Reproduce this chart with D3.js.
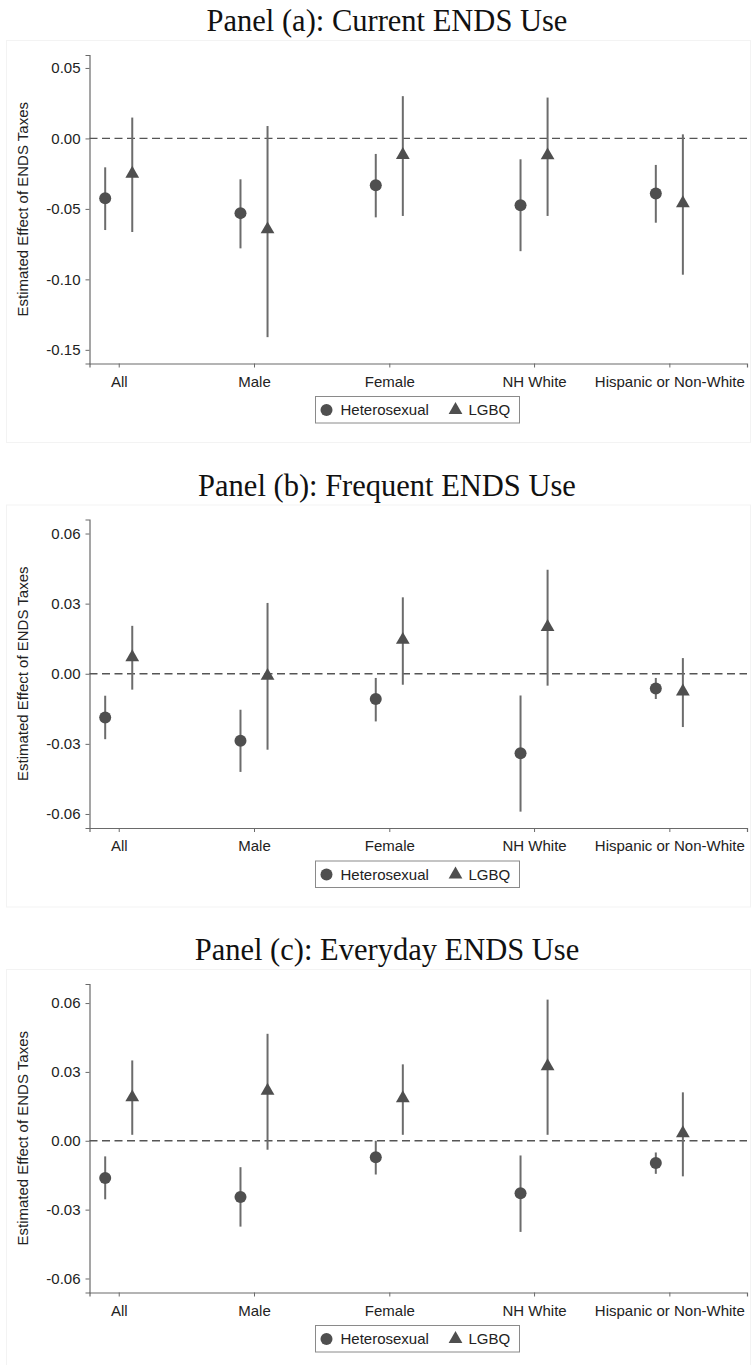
<!DOCTYPE html>
<html>
<head>
<meta charset="utf-8">
<script src="https://cdn.jsdelivr.net/npm/d3@7"></script>
<style>
  body { margin: 0; background: #fff; }
  svg { display: block; }
  .tick text { font-family: "Liberation Sans", Arial, sans-serif; font-size: 15px; fill: #222; }
</style>
</head>
<body>
<svg width="751" height="1365"></svg>
<script>
// categories and where they sit on the x axis (stata spacing is not quite even)
var groups = ["All", "Male", "Female", "NH White", "Hispanic or Non-White"];
var groupPos = [1, 2, 3, 4.07, 5.07];

var panelTitles = [
  "Panel (a): Current ENDS Use",
  "Panel (b): Frequent ENDS Use",
  "Panel (c): Everyday ENDS Use"
];
var seriesNames = ["Heterosexual", "LGBQ"];

// [estimate, lower, upper] for each group
var currentHetero = [[-0.0424, -0.065, -0.0205], [-0.053, -0.078, -0.029], [-0.0333, -0.056, -0.011], [-0.0474, -0.080, -0.0148], [-0.039, -0.0598, -0.0188]];
var currentLgbq   = [[-0.025, -0.0664, 0.0148], [-0.0645, -0.141, 0.0088], [-0.0117, -0.055, 0.030], [-0.012, -0.055, 0.029], [-0.046, -0.0967, 0.0029]];

var frequentHetero = [[-0.0187, -0.028, -0.0094], [-0.0287, -0.042, -0.0154], [-0.0108, -0.0204, -0.0018], [-0.034, -0.059, -0.0093], [-0.0063, -0.0108, -0.0018]];
var frequentLgbq   = [[0.0071, -0.0068, 0.0205], [-0.0009, -0.0325, 0.0303], [0.0145, -0.0047, 0.0327], [0.020, -0.0051, 0.0445], [-0.0076, -0.0228, 0.0067]];

var everydayHetero = [[-0.0162, -0.0255, -0.0068], [-0.0245, -0.0374, -0.0115], [-0.0072, -0.0147, 0.0], [-0.0229, -0.0397, -0.0064], [-0.0097, -0.0144, -0.0051]];
var everydayLgbq   = [[0.0189, 0.0026, 0.035], [0.0218, -0.0039, 0.0466], [0.0185, 0.0026, 0.0333], [0.0325, 0.0026, 0.0615], [0.0033, -0.0155, 0.0211]];

var yTicksA = [0.05, 0, -0.05, -0.10, -0.15];
var yTicksBC = [0.06, 0.03, 0, -0.03, -0.06];
var yDomains = [[-0.1597, 0.0592], [-0.066, 0.066], [-0.0661, 0.0683]];

var panels = [
  { title: panelTitles[0], hetero: currentHetero, lgbq: currentLgbq, ticks: yTicksA, domain: yDomains[0] },
  { title: panelTitles[1], hetero: frequentHetero, lgbq: frequentLgbq, ticks: yTicksBC, domain: yDomains[1] },
  { title: panelTitles[2], hetero: everydayHetero, lgbq: everydayLgbq, ticks: yTicksBC, domain: yDomains[2] }
];

var svg = d3.select("svg");
var fmt = d3.formatLocale({ decimal: ".", thousands: ",", grouping: [3], currency: ["", ""], minus: "-" }).format(".2f");

var panelStep = 464.5;
var plotLeft = 89.5, plotRight = 747, plotTop = 55, plotH = 308.5;
var markColor = "#4f4f4f", lineColor = "#6c6c6c", axisColor = "#6a6a6a";
var offset = 0.1; // heterosexual left of the tick, LGBQ right of it

var x = d3.scaleLinear().domain([0.784, 5.644]).range([plotLeft, plotRight]);

panels.forEach(function(p, i) {
  var g = svg.append("g").attr("transform", "translate(0," + (i * panelStep) + ")");

  // faint graph region border
  g.append("rect")
    .attr("x", 6.5).attr("y", 40.5)
    .attr("width", 744).attr("height", 402)
    .attr("fill", "none").attr("stroke", "#f3f3f3");

  g.append("text")
    .attr("x", 387).attr("y", 31)
    .attr("text-anchor", "middle")
    .style("font-family", "'Liberation Serif', 'Times New Roman', serif")
    .style("font-size", "30.5px")
    .style("fill", "#111")
    .text(p.title);

  var y = d3.scaleLinear().domain(p.domain).range([plotTop + plotH, plotTop]);

  // y axis
  var yAxis = g.append("g")
    .attr("transform", "translate(" + plotLeft + ",0)")
    .call(d3.axisLeft(y).tickValues(p.ticks).tickFormat(fmt).tickSize(4).tickPadding(5));
  yAxis.select(".domain").attr("stroke", axisColor).attr("stroke-width", 1.2);
  yAxis.selectAll(".tick line").attr("stroke", axisColor);

  // x axis
  var xAxis = g.append("g")
    .attr("transform", "translate(0," + (plotTop + plotH) + ")")
    .call(d3.axisBottom(x).tickValues(groupPos).tickFormat(function(d, k) { return groups[k]; }).tickSize(4).tickPadding(5));
  xAxis.select(".domain").attr("stroke", axisColor).attr("stroke-width", 1.2);
  xAxis.selectAll(".tick line").attr("stroke", axisColor);
  xAxis.selectAll(".tick text").attr("dy", "0.95em");

  g.append("text")
    .attr("transform", "translate(23," + (plotTop + plotH / 2) + ") rotate(-90)")
    .attr("text-anchor", "middle")
    .attr("dy", "0.35em")
    .style("font-family", "'Liberation Sans', Arial, sans-serif")
    .style("font-size", "15px")
    .style("fill", "#222")
    .text("Estimated Effect of ENDS Taxes");

  // reference line at zero
  g.append("line")
    .attr("x1", plotLeft).attr("x2", plotRight)
    .attr("y1", y(0)).attr("y2", y(0))
    .attr("stroke", "#555").attr("stroke-width", 1.3)
    .attr("stroke-dasharray", "8,4.5");

  // confidence intervals
  g.selectAll(".ci-h").data(p.hetero).enter().append("line")
    .attr("x1", function(d, k) { return x(groupPos[k] - offset); })
    .attr("x2", function(d, k) { return x(groupPos[k] - offset); })
    .attr("y1", function(d) { return y(d[1]); })
    .attr("y2", function(d) { return y(d[2]); })
    .attr("stroke", lineColor).attr("stroke-width", 2);

  g.selectAll(".ci-l").data(p.lgbq).enter().append("line")
    .attr("x1", function(d, k) { return x(groupPos[k] + offset); })
    .attr("x2", function(d, k) { return x(groupPos[k] + offset); })
    .attr("y1", function(d) { return y(d[1]); })
    .attr("y2", function(d) { return y(d[2]); })
    .attr("stroke", lineColor).attr("stroke-width", 2);

  // point estimates
  g.selectAll(".pt-h").data(p.hetero).enter().append("circle")
    .attr("cx", function(d, k) { return x(groupPos[k] - offset); })
    .attr("cy", function(d) { return y(d[0]); })
    .attr("r", 6)
    .attr("fill", markColor);

  g.selectAll(".pt-l").data(p.lgbq).enter().append("path")
    .attr("d", d3.symbol().type(d3.symbolTriangle).size(82))
    .attr("transform", function(d, k) { return "translate(" + x(groupPos[k] + offset) + "," + y(d[0]) + ")"; })
    .attr("fill", markColor);

  // legend
  var lg = g.append("g").attr("transform", "translate(315.5,396.5)");
  lg.append("rect").attr("width", 204).attr("height", 26.5)
    .attr("fill", "#fff").attr("stroke", "#8a8a8a").attr("stroke-width", 1);
  lg.append("circle").attr("cx", 11).attr("cy", 13.5).attr("r", 6).attr("fill", markColor);
  lg.append("text").attr("x", 25).attr("y", 13.5).attr("dy", "0.35em")
    .style("font-family", "'Liberation Sans', Arial, sans-serif").style("font-size", "15px").style("fill", "#222")
    .text(seriesNames[0]);
  lg.append("path")
    .attr("d", d3.symbol().type(d3.symbolTriangle).size(82))
    .attr("transform", "translate(140,13.5)")
    .attr("fill", markColor);
  lg.append("text").attr("x", 153).attr("y", 13.5).attr("dy", "0.35em")
    .style("font-family", "'Liberation Sans', Arial, sans-serif").style("font-size", "15px").style("fill", "#222")
    .text(seriesNames[1]);
});
</script>
</body>
</html>
